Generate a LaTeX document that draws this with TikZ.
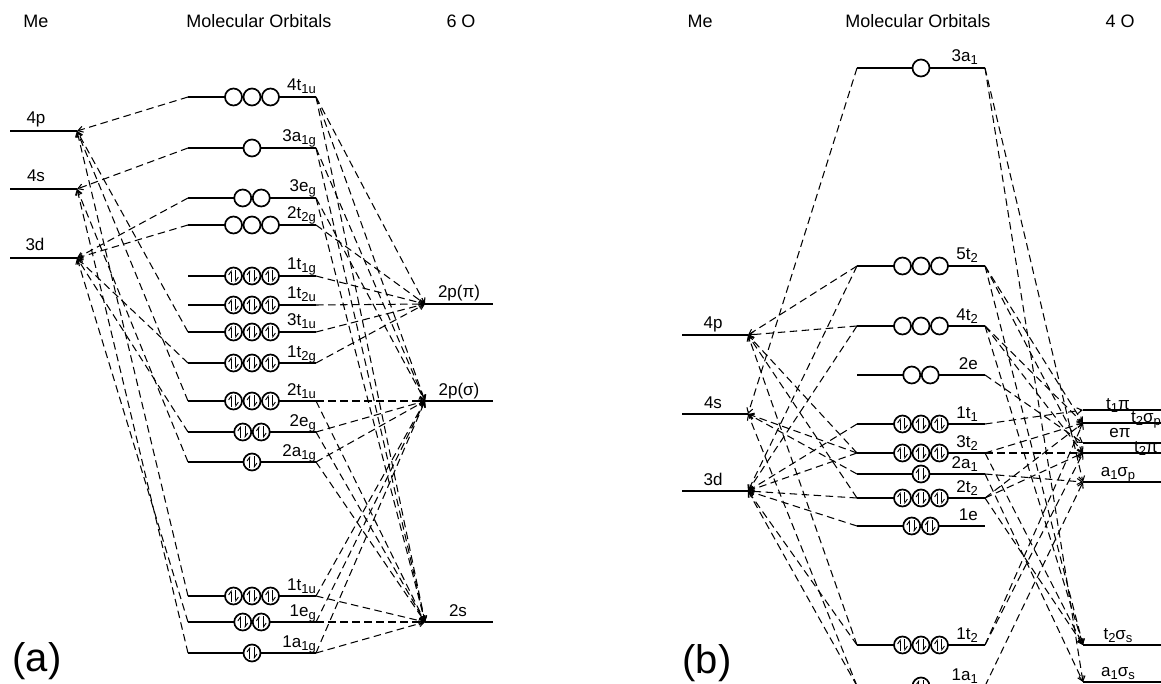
\documentclass[tikz,border=0pt]{standalone}
\usepackage{fontspec}
\setmainfont{Liberation Sans}
\usetikzlibrary{arrows.meta}
\newcommand{\lsub}[1]{\raisebox{-3pt}{\fontsize{13}{13}\selectfont#1}}
\tikzset{
  lvl/.style={line width=1.8pt},
  mlink/.style={line width=1.05pt,dash pattern=on 7.5pt off 4.5pt,
                -{Straight Barb[length=5pt,width=6pt]}},
  orbline/.style={line width=1.7pt,fill=white},
  spinarr/.style={line width=0.9pt,-{Straight Barb[left,length=3.5pt,width=5pt]}},
  molbl/.style={font=\fontsize{17}{20}\selectfont,anchor=base east,inner sep=0pt},
  atlbl/.style={font=\fontsize{17}{20}\selectfont,anchor=base,inner sep=0pt},
  headtxt/.style={font=\fontsize{18}{21}\selectfont,inner sep=0pt},
  paneltxt/.style={font=\fontsize{40}{44}\selectfont,inner sep=0pt},
  emptyorb/.pic={\draw[orbline] (0,0) circle (8.5);},
  fullorb/.pic={\draw[orbline] (0,0) circle (8.5);
                \draw[spinarr] (-2.4,6) -- (-2.4,-6);
                \draw[spinarr] (2.4,-6) -- (2.4,6);}
}
% circles on a level: x, y, count, pic
\newcommand{\orbs}[4]{%
  \ifcase#3\or
    \pic at (#1,#2) {#4};\or
    \pic at (#1-9.25,#2) {#4}; \pic at (#1+9.25,#2) {#4};\or
    \pic at (#1-18.5,#2) {#4}; \pic at (#1,#2) {#4}; \pic at (#1+18.5,#2) {#4};\fi}
% atomic level: name, x1, x2, y, label, label x, label y
\newcommand{\atlev}[7]{%
  \draw[lvl] (#2,#4) coordinate (#1-L) -- (#3,#4) coordinate (#1-R);
  \node[atlbl] (#1-t) at (#6,#7) {#5};}
% molecular levels of (a) and (b): name, y, label, count, pic
\newcommand{\molA}[5]{%
  \draw[lvl] (188,#2) coordinate (#1-L) -- (316,#2) coordinate (#1-R);
  \orbs{252}{#2}{#4}{#5}
  \node[molbl] (#1-t) at (316,#2-6) {#3};}
\newcommand{\molB}[5]{%
  \draw[lvl] (857,#2) coordinate (#1-L) -- (985,#2) coordinate (#1-R);
  \orbs{921}{#2}{#4}{#5}
  \node[molbl] (#1-t) at (978,#2-6) {#3};}

\begin{document}
\begin{tikzpicture}[x=1pt,y=-1pt]
  \useasboundingbox (0,0) rectangle (1161,684);
  \clip (0,0) rectangle (1161,684);

  % (a) octahedral
  \node[headtxt] (meA) at (36,21) {Me};
  \node[headtxt] (moA) at (259,21) {Molecular Orbitals};
  \node[headtxt] (oxA) at (461,21) {6 O};
  \node[paneltxt] (pa) at (37,661) {(a)};

  \atlev{a4p}{10}{77}{131}{4p}{36}{124}
  \atlev{a4s}{10}{77}{189}{4s}{36}{182}
  \atlev{a3d}{10}{77}{258}{3d}{35}{251}
  \atlev{a2ppi}{425}{493}{304}{2p(π)}{459}{298}
  \atlev{a2psg}{425}{493}{401}{2p(σ)}{459}{395}
  \atlev{a2s}{425}{493}{622}{2s}{458}{616}

  \molA{a4t1u}{97}{4t\lsub{1u}}{3}{emptyorb}
  \molA{a3a1g}{148}{3a\lsub{1g}}{1}{emptyorb}
  \molA{a3eg}{198}{3e\lsub{g}}{2}{emptyorb}
  \molA{a2t2g}{225}{2t\lsub{2g}}{3}{emptyorb}
  \molA{a1t1g}{276}{1t\lsub{1g}}{3}{fullorb}
  \molA{a1t2u}{305}{1t\lsub{2u}}{3}{fullorb}
  \molA{a3t1u}{332}{3t\lsub{1u}}{3}{fullorb}
  \molA{a1t2g}{363}{1t\lsub{2g}}{3}{fullorb}
  \molA{a2t1u}{401}{2t\lsub{1u}}{3}{fullorb}
  \molA{a2eg}{432}{2e\lsub{g}}{2}{fullorb}
  \molA{a2a1g}{462}{2a\lsub{1g}}{1}{fullorb}
  \molA{a1t1u}{596}{1t\lsub{1u}}{3}{fullorb}
  \molA{a1eg}{622}{1e\lsub{g}}{2}{fullorb}
  \molA{a1a1g}{653}{1a\lsub{1g}}{1}{fullorb}

  \foreach \m in {a4t1u,a3t1u,a2t1u,a1t1u} \draw[mlink] (\m-L) -- (a4p-R);
  \foreach \m in {a3a1g,a2a1g,a1a1g} \draw[mlink] (\m-L) -- (a4s-R);
  \foreach \m in {a3eg,a2t2g,a1t2g,a2eg,a1eg} \draw[mlink] (\m-L) -- (a3d-R);
  \foreach \m in {a4t1u,a2t2g,a1t1g,a1t2u,a3t1u,a1t2g} \draw[mlink] (\m-R) -- (a2ppi-L);
  \foreach \m in {a4t1u,a3a1g,a3eg,a2t1u,a2eg,a2a1g,a1t1u,a1eg,a1a1g} {
    \draw[mlink] (\m-R) -- (a2psg-L);
    \draw[mlink] (\m-R) -- (a2s-L);}

  % (b) tetrahedral
  \node[headtxt] (meB) at (700,21) {Me};
  \node[headtxt] (moB) at (918,21) {Molecular Orbitals};
  \node[headtxt] (oxB) at (1120,21) {4 O};
  \node[paneltxt] (pb) at (707,663) {(b)};

  \atlev{b4p}{682}{748}{335}{4p}{713}{329}
  \atlev{b4s}{682}{748}{414}{4s}{713}{408}
  \atlev{b3d}{682}{748}{491}{3d}{713}{485}
  \atlev{bt1pi}{1083}{1161}{410}{t\lsub{1}π}{1118}{409}
  \atlev{bt2sp}{1083}{1161}{423}{t\lsub{2}σ\lsub{p}}{1146}{422}
  \atlev{bepi}{1083}{1161}{443}{eπ}{1120}{437}
  \atlev{bt2pi}{1083}{1161}{453}{t\lsub{2}π}{1146}{452}
  \atlev{ba1sp}{1083}{1161}{482}{a\lsub{1}σ\lsub{p}}{1118}{476}
  \atlev{bt2ss}{1083}{1161}{645}{t\lsub{2}σ\lsub{s}}{1118}{639}
  \atlev{ba1ss}{1083}{1161}{682}{a\lsub{1}σ\lsub{s}}{1118}{676}

  \molB{b3a1}{68}{3a\lsub{1}}{1}{emptyorb}
  \molB{b5t2}{266}{5t\lsub{2}}{3}{emptyorb}
  \molB{b4t2}{326}{4t\lsub{2}}{3}{emptyorb}
  \molB{b2e}{375}{2e}{2}{emptyorb}
  \molB{b1t1}{424}{1t\lsub{1}}{3}{fullorb}
  \molB{b3t2}{453}{3t\lsub{2}}{3}{fullorb}
  \molB{b2a1}{474}{2a\lsub{1}}{1}{fullorb}
  \molB{b2t2}{498}{2t\lsub{2}}{3}{fullorb}
  \molB{b1e}{526}{1e}{2}{fullorb}
  \molB{b1t2}{645}{1t\lsub{2}}{3}{fullorb}
  \molB{b1a1}{686}{1a\lsub{1}}{1}{fullorb}

  \foreach \m in {b5t2,b4t2,b3t2,b2t2,b1t2} \draw[mlink] (\m-L) -- (b4p-R);
  \foreach \m in {b3a1,b3t2,b2a1,b1a1} \draw[mlink] (\m-L) -- (b4s-R);
  \foreach \m in {b5t2,b4t2,b1t1,b3t2,b2t2,b1e,b1t2,b1a1} \draw[mlink] (\m-L) -- (b3d-R);
  \foreach \m in {b3a1,b2a1,b1a1} \draw[mlink] (\m-R) -- (ba1sp-L);
  \foreach \m in {b3a1,b2a1} \draw[mlink] (\m-R) -- (ba1ss-L);
  \foreach \m in {b5t2,b4t2,b3t2,b2t2,b1t2} {
    \draw[mlink] (\m-R) -- (bt2sp-L);
    \draw[mlink] (\m-R) -- (bt2pi-L);}
  \foreach \m in {b5t2,b4t2,b3t2,b2t2} \draw[mlink] (\m-R) -- (bt2ss-L);
  \draw[mlink] (b2e-R) -- (bepi-L);
  \draw[mlink] (b1t1-R) -- (bt1pi-L);
\end{tikzpicture}
\end{document}
